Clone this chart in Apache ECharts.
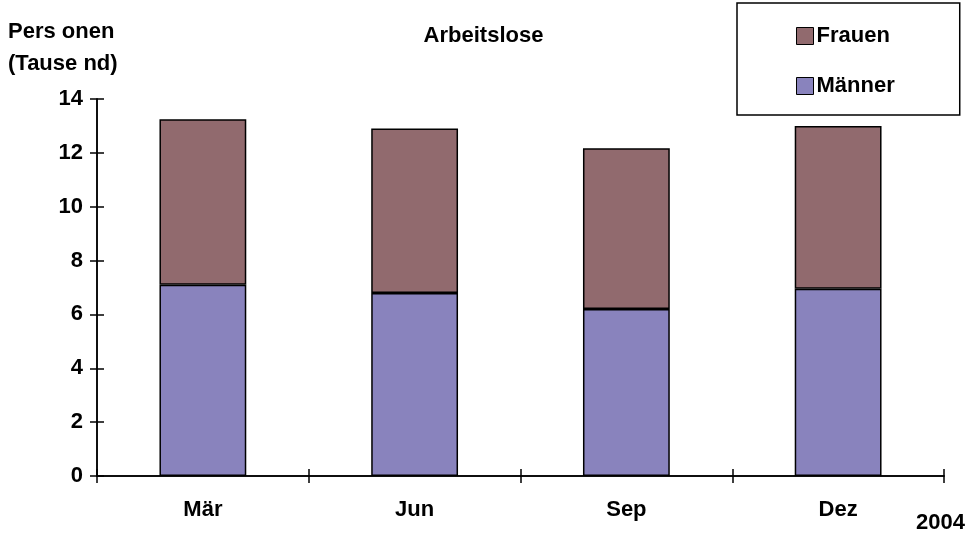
<!DOCTYPE html>
<html><head><meta charset="utf-8">
<script src="https://cdn.jsdelivr.net/npm/echarts@6/dist/echarts.min.js"></script>
<style>html,body{margin:0;padding:0;background:#fff}#c{width:967px;height:533px}</style>
</head><body><div id="c"></div>
<script>
const categories = ['Mär', 'Jun', 'Sep', 'Dez'];
const maenner = [7.1, 6.8, 6.2, 6.95];
const frauen = [6.15, 6.1, 5.97, 6.05];
const yTicks = [0, 2, 4, 6, 8, 10, 12, 14];

const FONT = '"Liberation Sans", Arial, sans-serif';
const FS = 22;
const chart = echarts.init(document.getElementById('c'), null, {renderer: 'canvas'});
const yBase = {
  type: 'value', min: yTicks[0], max: yTicks[yTicks.length - 1], interval: 2,
  position: 'left',
  splitLine: {show: false},
  axisLine: {show: true, lineStyle: {color: '#000', width: 1.5}}
};
const xBase = {
  type: 'category', data: categories, position: 'bottom',
  axisLine: {show: true, lineStyle: {color: '#000', width: 1.5}},
  splitLine: {show: false}
};
chart.setOption({
  animation: false,
  backgroundColor: '#fff',
  title: [
    {text: 'Arbeitslose', left: 'center', top: 25, padding: 0,
      textStyle: {fontFamily: FONT, fontWeight: 'bold', fontSize: FS, color: '#000'}},
    {text: 'Pers onen\n(Tause nd)', left: 8, top: 16, padding: 0,
      textStyle: {fontFamily: FONT, fontWeight: 'bold', fontSize: FS, color: '#000', lineHeight: 32}},
    {text: '2004', right: 2, top: 512, padding: 0,
      textStyle: {fontFamily: FONT, fontWeight: 'bold', fontSize: FS, color: '#000'}}
  ],
  legend: {
    orient: 'vertical', left: 737, top: 3,
    padding: [22, 65, 18, 59],
    itemGap: 28, itemWidth: 17, itemHeight: 17,
    icon: 'rect',
    borderColor: '#000', borderWidth: 1.5,
    data: ['Frauen', 'Männer'],
    itemStyle: {borderColor: '#000', borderWidth: 1},
    textStyle: {fontFamily: FONT, fontWeight: 'bold', fontSize: FS, color: '#000', padding: [0,0,0,-2]}
  },
  grid: {left: 97, right: 23, top: 99, bottom: 57},
  xAxis: [
    Object.assign({}, xBase, {
      axisTick: {show: true, inside: false, length: 7, lineStyle: {color: '#000', width: 1.5}},
      axisLabel: {margin: 23, fontFamily: FONT, fontWeight: 'bold', fontSize: FS, color: '#000'}
    }),
    Object.assign({}, xBase, {
      axisTick: {show: true, inside: true, length: 7, lineStyle: {color: '#000', width: 1.5}},
      axisLabel: {show: false}
    })
  ],
  yAxis: [
    Object.assign({}, yBase, {
      axisTick: {show: true, inside: false, length: 7, lineStyle: {color: '#000', width: 1.5}},
      axisLabel: {margin: 14, fontFamily: FONT, fontWeight: 'bold', fontSize: FS, color: '#000'}
    }),
    Object.assign({}, yBase, {
      axisTick: {show: true, inside: true, length: 7, lineStyle: {color: '#000', width: 1.5}},
      axisLabel: {show: false}
    })
  ],
  series: [
    {name: 'Männer', type: 'bar', stack: 'a', data: maenner, barWidth: '41%',
      itemStyle: {color: '#8983BD', borderColor: '#000', borderWidth: 1.5}},
    {name: 'Frauen', type: 'bar', stack: 'a', data: frauen, barWidth: '41%',
      itemStyle: {color: '#916A6E', borderColor: '#000', borderWidth: 1.5}}
  ]
});
</script></body></html>
